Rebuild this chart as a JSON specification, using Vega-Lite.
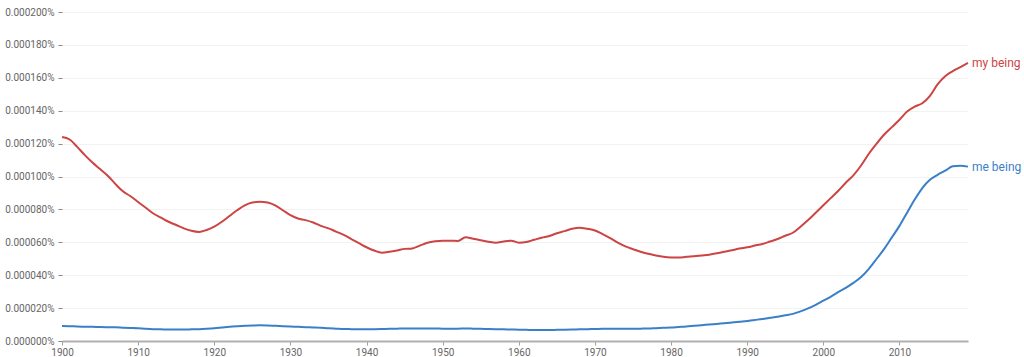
{
  "$schema": "https://vega.github.io/schema/vega-lite/v6.json",
  "autosize": "none",
  "width": 906,
  "height": 329,
  "padding": {"left": 62, "top": 12, "right": 56, "bottom": 16},
  "background": "white",
  "config": {"view": {"stroke": null}, "font": "Roboto"},
  "data": {"values": [
        {"year":1900,"term":"my being","v":0.0001240},{"year":1901,"term":"my being","v":0.0001225},{"year":1902,"term":"my being","v":0.0001180},{"year":1903,"term":"my being","v":0.0001130},{"year":1904,"term":"my being","v":0.0001085},{"year":1905,"term":"my being","v":0.0001045},{"year":1906,"term":"my being","v":0.0001005},{"year":1907,"term":"my being","v":0.0000955},{"year":1908,"term":"my being","v":0.0000910},{"year":1909,"term":"my being","v":0.0000880},
        {"year":1910,"term":"my being","v":0.0000845},{"year":1911,"term":"my being","v":0.0000810},{"year":1912,"term":"my being","v":0.0000775},{"year":1913,"term":"my being","v":0.0000750},{"year":1914,"term":"my being","v":0.0000725},{"year":1915,"term":"my being","v":0.0000705},{"year":1916,"term":"my being","v":0.0000685},{"year":1917,"term":"my being","v":0.0000670},{"year":1918,"term":"my being","v":0.0000663},{"year":1919,"term":"my being","v":0.0000675},
        {"year":1920,"term":"my being","v":0.0000695},{"year":1921,"term":"my being","v":0.0000725},{"year":1922,"term":"my being","v":0.0000760},{"year":1923,"term":"my being","v":0.0000795},{"year":1924,"term":"my being","v":0.0000825},{"year":1925,"term":"my being","v":0.0000842},{"year":1926,"term":"my being","v":0.0000847},{"year":1927,"term":"my being","v":0.0000842},{"year":1928,"term":"my being","v":0.0000825},{"year":1929,"term":"my being","v":0.0000795},
        {"year":1930,"term":"my being","v":0.0000765},{"year":1931,"term":"my being","v":0.0000745},{"year":1932,"term":"my being","v":0.0000735},{"year":1933,"term":"my being","v":0.0000720},{"year":1934,"term":"my being","v":0.0000700},{"year":1935,"term":"my being","v":0.0000685},{"year":1936,"term":"my being","v":0.0000665},{"year":1937,"term":"my being","v":0.0000645},{"year":1938,"term":"my being","v":0.0000620},{"year":1939,"term":"my being","v":0.0000595},
        {"year":1940,"term":"my being","v":0.0000570},{"year":1941,"term":"my being","v":0.0000550},{"year":1942,"term":"my being","v":0.0000537},{"year":1943,"term":"my being","v":0.0000542},{"year":1944,"term":"my being","v":0.0000550},{"year":1945,"term":"my being","v":0.0000560},{"year":1946,"term":"my being","v":0.0000563},{"year":1947,"term":"my being","v":0.0000580},{"year":1948,"term":"my being","v":0.0000597},{"year":1949,"term":"my being","v":0.0000606},
        {"year":1950,"term":"my being","v":0.0000610},{"year":1951,"term":"my being","v":0.0000610},{"year":1952,"term":"my being","v":0.0000608},{"year":1953,"term":"my being","v":0.0000630},{"year":1954,"term":"my being","v":0.0000622},{"year":1955,"term":"my being","v":0.0000612},{"year":1956,"term":"my being","v":0.0000603},{"year":1957,"term":"my being","v":0.0000597},{"year":1958,"term":"my being","v":0.0000605},{"year":1959,"term":"my being","v":0.0000610},
        {"year":1960,"term":"my being","v":0.0000598},{"year":1961,"term":"my being","v":0.0000602},{"year":1962,"term":"my being","v":0.0000615},{"year":1963,"term":"my being","v":0.0000628},{"year":1964,"term":"my being","v":0.0000638},{"year":1965,"term":"my being","v":0.0000655},{"year":1966,"term":"my being","v":0.0000668},{"year":1967,"term":"my being","v":0.0000682},{"year":1968,"term":"my being","v":0.0000689},{"year":1969,"term":"my being","v":0.0000682},
        {"year":1970,"term":"my being","v":0.0000672},{"year":1971,"term":"my being","v":0.0000650},{"year":1972,"term":"my being","v":0.0000625},{"year":1973,"term":"my being","v":0.0000598},{"year":1974,"term":"my being","v":0.0000575},{"year":1975,"term":"my being","v":0.0000558},{"year":1976,"term":"my being","v":0.0000543},{"year":1977,"term":"my being","v":0.0000530},{"year":1978,"term":"my being","v":0.0000520},{"year":1979,"term":"my being","v":0.0000512},
        {"year":1980,"term":"my being","v":0.0000508},{"year":1981,"term":"my being","v":0.0000507},{"year":1982,"term":"my being","v":0.0000512},{"year":1983,"term":"my being","v":0.0000515},{"year":1984,"term":"my being","v":0.0000520},{"year":1985,"term":"my being","v":0.0000525},{"year":1986,"term":"my being","v":0.0000533},{"year":1987,"term":"my being","v":0.0000543},{"year":1988,"term":"my being","v":0.0000552},{"year":1989,"term":"my being","v":0.0000562},
        {"year":1990,"term":"my being","v":0.0000570},{"year":1991,"term":"my being","v":0.0000580},{"year":1992,"term":"my being","v":0.0000590},{"year":1993,"term":"my being","v":0.0000605},{"year":1994,"term":"my being","v":0.0000620},{"year":1995,"term":"my being","v":0.0000640},{"year":1996,"term":"my being","v":0.0000658},{"year":1997,"term":"my being","v":0.0000695},{"year":1998,"term":"my being","v":0.0000735},{"year":1999,"term":"my being","v":0.0000780},
        {"year":2000,"term":"my being","v":0.0000825},{"year":2001,"term":"my being","v":0.0000870},{"year":2002,"term":"my being","v":0.0000915},{"year":2003,"term":"my being","v":0.0000965},{"year":2004,"term":"my being","v":0.0001010},{"year":2005,"term":"my being","v":0.0001070},{"year":2006,"term":"my being","v":0.0001140},{"year":2007,"term":"my being","v":0.0001200},{"year":2008,"term":"my being","v":0.0001255},{"year":2009,"term":"my being","v":0.0001300},
        {"year":2010,"term":"my being","v":0.0001345},{"year":2011,"term":"my being","v":0.0001395},{"year":2012,"term":"my being","v":0.0001425},{"year":2013,"term":"my being","v":0.0001445},{"year":2014,"term":"my being","v":0.0001490},{"year":2015,"term":"my being","v":0.0001560},{"year":2016,"term":"my being","v":0.0001610},{"year":2017,"term":"my being","v":0.0001640},{"year":2018,"term":"my being","v":0.0001665},{"year":2019,"term":"my being","v":0.0001690},
        {"year":1900,"term":"me being","v":0.0000091},{"year":1901,"term":"me being","v":0.0000090},{"year":1902,"term":"me being","v":0.0000088},{"year":1903,"term":"me being","v":0.0000087},{"year":1904,"term":"me being","v":0.0000086},{"year":1905,"term":"me being","v":0.0000085},{"year":1906,"term":"me being","v":0.0000084},{"year":1907,"term":"me being","v":0.0000083},{"year":1908,"term":"me being","v":0.0000081},{"year":1909,"term":"me being","v":0.0000079},
        {"year":1910,"term":"me being","v":0.0000077},{"year":1911,"term":"me being","v":0.0000074},{"year":1912,"term":"me being","v":0.0000072},{"year":1913,"term":"me being","v":0.0000071},{"year":1914,"term":"me being","v":0.0000070},{"year":1915,"term":"me being","v":0.0000070},{"year":1916,"term":"me being","v":0.0000070},{"year":1917,"term":"me being","v":0.0000071},{"year":1918,"term":"me being","v":0.0000072},{"year":1919,"term":"me being","v":0.0000074},
        {"year":1920,"term":"me being","v":0.0000077},{"year":1921,"term":"me being","v":0.0000082},{"year":1922,"term":"me being","v":0.0000087},{"year":1923,"term":"me being","v":0.0000090},{"year":1924,"term":"me being","v":0.0000092},{"year":1925,"term":"me being","v":0.0000094},{"year":1926,"term":"me being","v":0.0000095},{"year":1927,"term":"me being","v":0.0000094},{"year":1928,"term":"me being","v":0.0000092},{"year":1929,"term":"me being","v":0.0000090},
        {"year":1930,"term":"me being","v":0.0000088},{"year":1931,"term":"me being","v":0.0000086},{"year":1932,"term":"me being","v":0.0000084},{"year":1933,"term":"me being","v":0.0000082},{"year":1934,"term":"me being","v":0.0000080},{"year":1935,"term":"me being","v":0.0000077},{"year":1936,"term":"me being","v":0.0000075},{"year":1937,"term":"me being","v":0.0000073},{"year":1938,"term":"me being","v":0.0000072},{"year":1939,"term":"me being","v":0.0000071},
        {"year":1940,"term":"me being","v":0.0000071},{"year":1941,"term":"me being","v":0.0000072},{"year":1942,"term":"me being","v":0.0000073},{"year":1943,"term":"me being","v":0.0000074},{"year":1944,"term":"me being","v":0.0000075},{"year":1945,"term":"me being","v":0.0000076},{"year":1946,"term":"me being","v":0.0000076},{"year":1947,"term":"me being","v":0.0000076},{"year":1948,"term":"me being","v":0.0000076},{"year":1949,"term":"me being","v":0.0000076},
        {"year":1950,"term":"me being","v":0.0000075},{"year":1951,"term":"me being","v":0.0000075},{"year":1952,"term":"me being","v":0.0000075},{"year":1953,"term":"me being","v":0.0000076},{"year":1954,"term":"me being","v":0.0000075},{"year":1955,"term":"me being","v":0.0000074},{"year":1956,"term":"me being","v":0.0000073},{"year":1957,"term":"me being","v":0.0000072},{"year":1958,"term":"me being","v":0.0000071},{"year":1959,"term":"me being","v":0.0000070},
        {"year":1960,"term":"me being","v":0.0000069},{"year":1961,"term":"me being","v":0.0000068},{"year":1962,"term":"me being","v":0.0000067},{"year":1963,"term":"me being","v":0.0000067},{"year":1964,"term":"me being","v":0.0000067},{"year":1965,"term":"me being","v":0.0000068},{"year":1966,"term":"me being","v":0.0000069},{"year":1967,"term":"me being","v":0.0000070},{"year":1968,"term":"me being","v":0.0000071},{"year":1969,"term":"me being","v":0.0000072},
        {"year":1970,"term":"me being","v":0.0000073},{"year":1971,"term":"me being","v":0.0000074},{"year":1972,"term":"me being","v":0.0000074},{"year":1973,"term":"me being","v":0.0000074},{"year":1974,"term":"me being","v":0.0000074},{"year":1975,"term":"me being","v":0.0000074},{"year":1976,"term":"me being","v":0.0000075},{"year":1977,"term":"me being","v":0.0000076},{"year":1978,"term":"me being","v":0.0000078},{"year":1979,"term":"me being","v":0.0000080},
        {"year":1980,"term":"me being","v":0.0000082},{"year":1981,"term":"me being","v":0.0000085},{"year":1982,"term":"me being","v":0.0000088},{"year":1983,"term":"me being","v":0.0000092},{"year":1984,"term":"me being","v":0.0000096},{"year":1985,"term":"me being","v":0.0000100},{"year":1986,"term":"me being","v":0.0000104},{"year":1987,"term":"me being","v":0.0000108},{"year":1988,"term":"me being","v":0.0000112},{"year":1989,"term":"me being","v":0.0000117},
        {"year":1990,"term":"me being","v":0.0000122},{"year":1991,"term":"me being","v":0.0000128},{"year":1992,"term":"me being","v":0.0000134},{"year":1993,"term":"me being","v":0.0000141},{"year":1994,"term":"me being","v":0.0000148},{"year":1995,"term":"me being","v":0.0000156},{"year":1996,"term":"me being","v":0.0000165},{"year":1997,"term":"me being","v":0.0000180},{"year":1998,"term":"me being","v":0.0000198},{"year":1999,"term":"me being","v":0.0000220},
        {"year":2000,"term":"me being","v":0.0000245},{"year":2001,"term":"me being","v":0.0000270},{"year":2002,"term":"me being","v":0.0000298},{"year":2003,"term":"me being","v":0.0000325},{"year":2004,"term":"me being","v":0.0000355},{"year":2005,"term":"me being","v":0.0000390},{"year":2006,"term":"me being","v":0.0000440},{"year":2007,"term":"me being","v":0.0000500},{"year":2008,"term":"me being","v":0.0000560},{"year":2009,"term":"me being","v":0.0000630},
        {"year":2010,"term":"me being","v":0.0000700},{"year":2011,"term":"me being","v":0.0000780},{"year":2012,"term":"me being","v":0.0000860},{"year":2013,"term":"me being","v":0.0000930},{"year":2014,"term":"me being","v":0.0000980},{"year":2015,"term":"me being","v":0.0001010},{"year":2016,"term":"me being","v":0.0001035},{"year":2017,"term":"me being","v":0.0001062},{"year":2018,"term":"me being","v":0.0001065},{"year":2019,"term":"me being","v":0.0001060}
  ]},
  "encoding": {
    "x": {"field": "year", "type": "quantitative",
      "scale": {"domain": [1900, 2019], "nice": false, "zero": false},
      "axis": {"title": null, "values": [1900,1910,1920,1930,1940,1950,1960,1970,1980,1990,2000,2010], "format": "d",
        "grid": false, "domainColor": "#b0b0b0", "domainWidth": 2, "tickColor": "#a0a0a0", "tickSize": 4,
        "labelFlush": false, "labelOverlap": false,
        "labelColor": "#666666", "labelFontSize": 10, "labelPadding": 2, "labelFont": "Roboto"}},
    "y": {"field": "v", "type": "quantitative",
      "scale": {"domain": [0, 0.0002], "nice": false},
      "axis": {"title": null, "values": [0,0.00002,0.00004,0.00006,0.00008,0.0001,0.00012,0.00014,0.00016,0.00018,0.0002],
        "labelExpr": "format(datum.value, '.6f') + '%'",
        "labelOverlap": false, "labelFlush": false,
        "domain": false, "grid": true, "gridColor": "#f2f2f2", "gridWidth": 1,
        "tickColor": "#888888", "tickSize": 4, "tickWidth": 1, "labelPadding": 4,
        "labelColor": "#666666", "labelFontSize": 10, "labelFont": "Roboto"}},
    "color": {"field": "term", "type": "nominal",
      "scale": {"domain": ["my being", "me being"], "range": ["#cc4444", "#3a7fc8"]},
      "legend": null}
  },
  "layer": [
    {
      "mark": {"type": "line", "strokeWidth": 2, "interpolate": "monotone", "clip": false}
    },
    {
      "transform": [{"filter": "datum.year == 2019"}],
      "mark": {"type": "text", "align": "left", "baseline": "middle", "dx": 4, "fontSize": 12, "font": "Roboto"},
      "encoding": {
        "text": {"field": "term"}
      }
    }
  ]
}
